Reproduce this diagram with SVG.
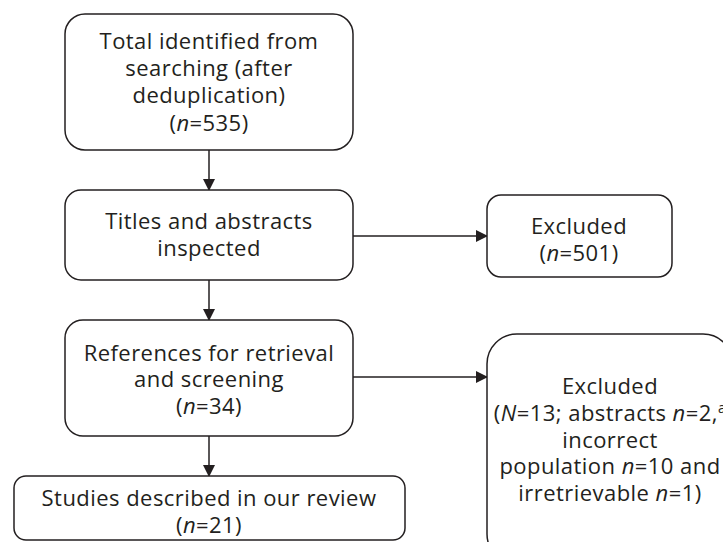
<svg xmlns="http://www.w3.org/2000/svg" width="723" height="542" viewBox="0 0 723 542">
<style>
.box{fill:#fff;stroke:#231f20;stroke-width:1.5}
.t{font-family:"Open Sans","Noto Sans","Liberation Sans",sans-serif;font-size:22px;letter-spacing:0.45px;fill:#231f20;text-anchor:middle}
.i{font-style:italic}
.c{stroke:#231f20;stroke-width:1.5;fill:none}
</style>
<defs>
<marker id="ah" markerWidth="12" markerHeight="12" refX="11" refY="6" orient="auto" markerUnits="userSpaceOnUse">
<path d="M0,0 L12,6 L0,12 Z" fill="#231f20"/>
</marker>
</defs>
<rect width="723" height="542" fill="#fff"/>
<g id="connectors">
<line class="c" x1="209" y1="150" x2="209" y2="190" marker-end="url(#ah)"/>
<line class="c" x1="209" y1="280" x2="209" y2="320" marker-end="url(#ah)"/>
<line class="c" x1="209" y1="436" x2="209" y2="476" marker-end="url(#ah)"/>
<line class="c" x1="353" y1="236" x2="487" y2="236" marker-end="url(#ah)"/>
<line class="c" x1="353" y1="377" x2="487" y2="377" marker-end="url(#ah)"/>
</g>
<g id="n1">
<rect class="box" x="65" y="14" width="288" height="136" rx="20"/>
<text class="t" x="209" y="49">Total identified from</text>
<text class="t" x="209" y="76">searching (after</text>
<text class="t" x="209" y="103">deduplication)</text>
<text class="t" x="209" y="131">(<tspan class="i">n</tspan>=535)</text>
</g>
<g id="n2">
<rect class="box" x="65" y="190" width="288" height="90" rx="16"/>
<text class="t" x="209" y="229">Titles and abstracts</text>
<text class="t" x="209" y="256">inspected</text>
</g>
<g id="n3">
<rect class="box" x="65" y="320" width="288" height="116" rx="18"/>
<text class="t" x="209" y="361">References for retrieval</text>
<text class="t" x="209" y="387">and screening</text>
<text class="t" x="209" y="414">(<tspan class="i">n</tspan>=34)</text>
</g>
<g id="n4">
<rect class="box" x="14" y="476" width="391" height="64" rx="12"/>
<text class="t" x="209" y="506">Studies described in our review</text>
<text class="t" x="209" y="533">(<tspan class="i">n</tspan>=21)</text>
</g>
<g id="e1">
<rect class="box" x="487" y="195" width="185" height="82" rx="14"/>
<text class="t" x="579" y="234">Excluded</text>
<text class="t" x="579" y="261">(<tspan class="i">n</tspan>=501)</text>
</g>
<g id="e2">
<rect class="box" x="487" y="334" width="246" height="230" rx="30"/>
<text class="t" x="610" y="394">Excluded</text>
<text class="t" x="610" y="421">(<tspan class="i">N</tspan>=13; abstracts <tspan class="i">n</tspan>=2,<tspan font-size="14" dy="-8">a</tspan></text>
<text class="t" x="610" y="448">incorrect</text>
<text class="t" x="610" y="474">population <tspan class="i">n</tspan>=10 and</text>
<text class="t" x="610" y="501">irretrievable <tspan class="i">n</tspan>=1)</text>
</g>
</svg>
